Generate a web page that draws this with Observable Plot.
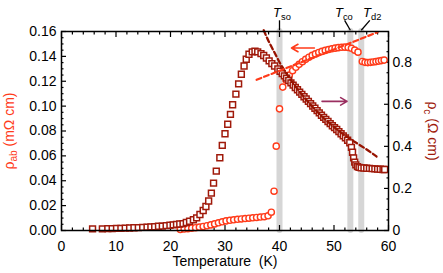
<!DOCTYPE html>
<html><head><meta charset="utf-8">
<script src="https://cdn.jsdelivr.net/npm/d3@7"></script>
<script src="https://cdn.jsdelivr.net/npm/@observablehq/plot@0.6"></script>
<style>
html,body{margin:0;padding:0;background:#fff;}
#chart{width:443px;height:273px;}
</style></head><body><div id="chart"></div>
<script>
// ρc (right axis, Ω cm) — squares
const rhoCT = [5.7,7.5,8.5,9.3,10.1,10.9,11.7,12.5,13.3,14.1,14.9,15.7,16.4,17.1,17.8,18.5,19.2,19.9,20.5,21.1,21.7,22.3,22.9,23.5,24.2,24.8,25.4,26.0,26.5,27.0,27.5,27.9,28.4,29.05,29.5,30.0,30.5,31.0,31.4,32.0,32.5,33.0,33.5,33.9,34.4,35.0,35.5,36.0,36.6,37.1,37.6,38.1,38.6,39.1,39.7,
  40.1,40.5,40.9,41.3,41.7,42.1,42.5,42.9,43.3,43.7,44.1,44.5,44.9,45.3,45.7,46.1,46.5,46.9,47.3,47.7,48.1,48.5,48.9,49.3,49.7,50.1,50.5,50.9,51.3,51.7,52.1,52.5,52.9,
  53.2,53.4,53.6,53.8,54.0,54.3,54.6,55.0,55.5,56.0,56.5,57.0,57.5,58.0,58.5,59.0,59.3];
const rhoCV = [0.008,0.008,0.009,0.009,0.010,0.010,0.011,0.012,0.013,0.014,0.015,0.016,0.017,0.018,0.020,0.021,0.023,0.025,0.027,0.029,0.031,0.033,0.038,0.044,0.051,0.060,0.076,0.095,0.114,0.140,0.178,0.225,0.282,0.346,0.405,0.460,0.505,0.552,0.598,0.648,0.697,0.743,0.782,0.814,0.838,0.849,0.852,0.849,0.841,0.832,0.820,0.806,0.793,0.782,0.768,
  0.757,0.746,0.735,0.724,0.713,0.702,0.691,0.680,0.669,0.658,0.647,0.636,0.625,0.614,0.603,0.592,0.581,0.570,0.559,0.548,0.538,0.528,0.518,0.508,0.498,0.489,0.480,0.470,0.460,0.450,0.440,0.429,0.417,
  0.395,0.372,0.345,0.325,0.312,0.304,0.300,0.298,0.297,0.296,0.295,0.294,0.293,0.292,0.291,0.290,0.290];
// ρab (left axis, mΩ cm) — circles
const rhoAbT = [21.8,22.5,23.2,23.9,24.6,25.3,26.0,26.7,27.4,28.1,28.8,29.5,30.2,30.9,31.6,32.3,33.0,33.7,34.4,35.1,35.8,36.5,37.2,37.9,38.5,39.0,39.4,40.0,40.6,41.2,41.8,42.4,43.0,43.6,44.2,44.8,45.4,46.0,46.6,47.2,47.8,48.4,49.0,49.6,50.2,50.8,51.4,52.0,52.6,53.2,53.8,54.4,55.2,55.7,56.2,56.7,57.2,57.7,58.2,58.7,59.2];
const rhoAbV = [0.0008,0.0012,0.0015,0.0018,0.0022,0.0027,0.0032,0.0038,0.0045,0.0053,0.0062,0.0070,0.0077,0.0082,0.0086,0.0090,0.0093,0.0096,0.0099,0.0102,0.0105,0.0108,0.0111,0.0118,0.0147,0.0316,0.0678,0.0978,0.1153,0.1210,0.1250,0.1285,0.1312,0.1336,0.1357,0.1376,0.1393,0.1408,0.1420,0.1431,0.1440,0.1448,0.1455,0.1461,0.1466,0.1470,0.1473,0.1474,0.1472,0.1465,0.1450,0.1434,0.1359,0.1352,0.1350,0.1352,0.1355,0.1358,0.1362,0.1366,0.1370];
// dashed fit of ρc (right axis)
const fitCT = [37.1,38.0,39.0,40.0,41.0,42.0,44.0,46.0,48.0,50.0,52.0,54.0,56.0,57.8];
const fitCV = [0.952,0.900,0.850,0.800,0.757,0.718,0.650,0.590,0.537,0.492,0.452,0.418,0.385,0.352];
// dashed linear fit of ρab (left axis)
const fitAbT = [35.8,58.0];
const fitAbV = [0.1212,0.1594];
// transitions
const transT = [40,53,55];
const transNames = ["T_{so}","T_{co}","T_{d2}"];
// arrows
const arrowAbT = [46.4,42.2]; const arrowAbV = 0.1467;
const arrowCT = [47.8,52.4]; const arrowCV = 0.614;
// ticks
const xMajor = [0,10,20,30,40,50,60];
const leftMajor = [0,0.02,0.04,0.06,0.08,0.10,0.12,0.14,0.16];
const rightMajor = [0,0.2,0.4,0.6,0.8];
const rightMax = 0.946;

const k = 0.16 / rightMax;
const orange = "#ff3b1a", dark = "#a01a0b", darkDash = "#971300", purple = "#9a2f60", band = "#d6d6d6";
const font = "'Liberation Sans', Arial, Helvetica, sans-serif";

const sq = rhoCT.map((t,i) => ({T:t, v:rhoCV[i]*k}));
const ci = rhoAbT.map((t,i) => ({T:t, v:rhoAbV[i]}));
const fitC = fitCT.map((t,i) => ({T:t, v:fitCV[i]*k}));
const fitAb = fitAbT.map((t,i) => ({T:t, v:fitAbV[i]}));

const xMinor = d3.range(0,61,2).filter(t => t % 10 !== 0);
const leftMinor = d3.range(0,33).filter(i => i % 4 !== 0).map(i => i*0.005);
const rightMinor = d3.range(1,19).filter(i => i % 4 !== 0).map(i => i*0.05*k);
const rightTicks = rightMajor.map(r => r*k);

const lean = [0,-1.05,1.57];
const labelDx = [2.5,-6.5,11];

const plot = Plot.plot({
  width: 443, height: 273,
  marginLeft: 61, marginRight: 55, marginTop: 31, marginBottom: 43,
  x: {domain: [0,60], axis: null},
  y: {domain: [0,0.16], axis: null},
  style: {fontFamily: font, fontSize: "14px", background: "white", color: "black", overflow: "visible"},
  marks: [
    Plot.ruleX(transT, {x: d=>d, y1: 0, y2: 0.16, stroke: band, strokeWidth: 6, strokeLinecap: "round"}),
    Plot.axisX(xMajor, {anchor: "bottom", tickSize: -5, fill: "none", strokeWidth: 1.2}),
    Plot.axisX(xMinor, {anchor: "bottom", tickSize: -2.5, fill: "none", strokeWidth: 1.2}),
    Plot.axisX(xMajor, {anchor: "top", tickSize: -5, fill: "none", strokeWidth: 1.2}),
    Plot.axisX(xMinor, {anchor: "top", tickSize: -2.5, fill: "none", strokeWidth: 1.2}),
    Plot.axisX(xMajor, {anchor: "bottom", tickSize: 0, tickPadding: 11, fontSize: 14, tickFormat: d => String(d), label: null}),
    Plot.axisY(leftMajor, {anchor: "left", tickSize: -5, fill: "none", strokeWidth: 1.2}),
    Plot.axisY(leftMinor, {anchor: "left", tickSize: -2.5, fill: "none", strokeWidth: 1.2}),
    Plot.axisY(leftMajor, {anchor: "left", tickSize: 0, tickPadding: 5, fontSize: 14, tickFormat: d3.format(".2f"), label: null}),
    Plot.axisY(rightTicks, {anchor: "right", tickSize: -5, fill: "none", strokeWidth: 1.2}),
    Plot.axisY(rightMinor, {anchor: "right", tickSize: -2.5, fill: "none", strokeWidth: 1.2}),
    Plot.axisY(rightTicks, {anchor: "right", tickSize: 0, tickPadding: 4, fontSize: 14, label: null,
      tickFormat: d => { const r = Math.round(d/k*10)/10; return r === 0 ? "0" : String(r); }}),
    Plot.dot(ci, {x: "T", y: "v", r: 3.1, stroke: orange, strokeWidth: 1.4, fill: "white"}),
    Plot.dot(sq, {x: "T", y: "v", r: 3.3, symbol: "square", stroke: dark, strokeWidth: 1.5, fill: "white"}),
    Plot.line(fitC, {x: "T", y: "v", stroke: darkDash, strokeWidth: 2.3, strokeDasharray: "5,3", curve: "natural"}),
    Plot.line(fitAb, {x: "T", y: "v", stroke: orange, strokeWidth: 2.2, strokeDasharray: "5,3"}),
    Plot.arrow([0], {x1: () => arrowAbT[0], x2: () => arrowAbT[1], y1: () => arrowAbV, y2: () => arrowAbV, stroke: orange, strokeWidth: 1.6, headLength: 7, headAngle: 60}),
    Plot.arrow([0], {x1: () => arrowCT[0], x2: () => arrowCT[1], y1: () => arrowCV*k, y2: () => arrowCV*k, stroke: purple, strokeWidth: 1.6, headLength: 7, headAngle: 60}),
    Plot.frame({stroke: "black", strokeWidth: 1.5}),
    Plot.link(transT, {x1: (d,i) => d + lean[i], x2: d => d, y1: 0.1690, y2: 0.1610, stroke: "black", strokeWidth: 1.3}),
    ...transT.map((t,i) => Plot.text([t], {x: d=>d, text: () => transNames[i], frameAnchor: "top", lineAnchor: "middle", textAnchor: "middle", dy: -19, dx: labelDx[i], fontSize: 13, fill: "black"})),
    Plot.text(["Temperature\u00a0\u00a0(K)"], {text: d=>d, frameAnchor: "bottom", lineAnchor: "middle", textAnchor: "middle", dy: 31.5, fontSize: 14, fill: "black"}),
    Plot.text(["ρ_{ab} (mΩ cm)"], {text: d=>d, frameAnchor: "left", lineAnchor: "middle", textAnchor: "middle", dx: -52, rotate: -90, fontSize: 14, fill: orange}),
    Plot.text(["ρ_{c} (Ω cm)"], {text: d=>d, frameAnchor: "right", lineAnchor: "middle", textAnchor: "middle", dx: 43.5, rotate: 90, fontSize: 14, fill: dark})
  ]
});

d3.select(plot).selectAll("text").each(function() {
  const s = this.textContent;
  const m = s.match(/^(.*?)_\{(.*?)\}(.*)$/);
  if (!m) return;
  const t = d3.select(this);
  t.text(null);
  t.append("tspan").text(m[1]).attr("font-style", m[1] === "T" ? "italic" : null);
  t.append("tspan").text(m[2]).attr("font-size", "0.72em").attr("dy", 3.5);
  if (m[3]) t.append("tspan").text(m[3]).attr("dy", -3.5);
});

document.getElementById("chart").appendChild(plot);
</script>
</body></html>
